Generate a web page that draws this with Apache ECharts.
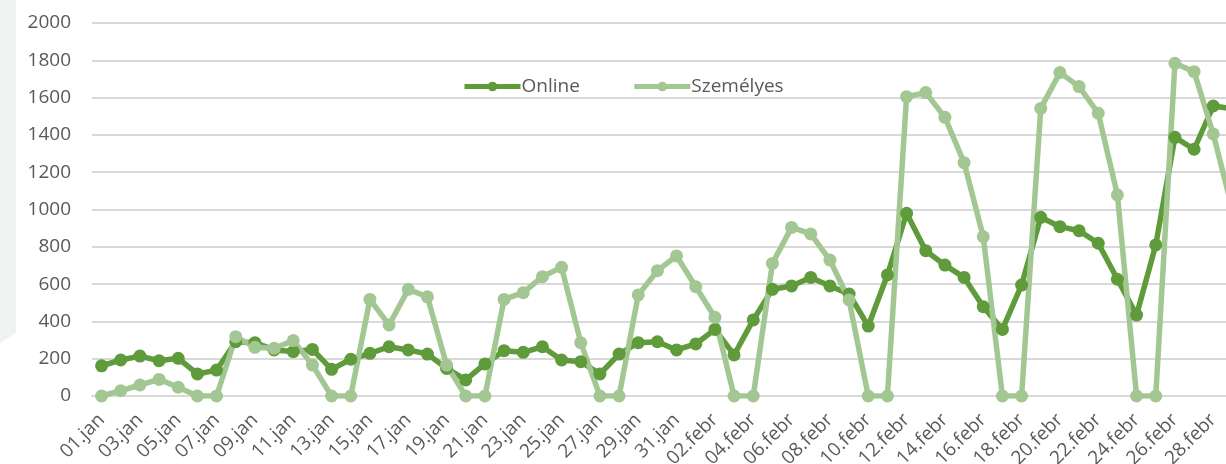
<!DOCTYPE html>
<html>
<head>
<meta charset="utf-8">
<script src="https://cdn.jsdelivr.net/npm/echarts@6/dist/echarts.min.js"></script>
<style>
html,body{margin:0;padding:0;overflow:hidden;background:#fff;}
#chart{width:1300px;height:464px;}
</style>
</head>
<body>
<div id="chart"></div>
<script>
const categories = [
 "01.jan","02.jan","03.jan","04.jan","05.jan","06.jan","07.jan","08.jan","09.jan","10.jan",
 "11.jan","12.jan","13.jan","14.jan","15.jan","16.jan","17.jan","18.jan","19.jan","20.jan",
 "21.jan","22.jan","23.jan","24.jan","25.jan","26.jan","27.jan","28.jan","29.jan","30.jan","31.jan",
 "01.febr","02.febr","03.febr","04.febr","05.febr","06.febr","07.febr","08.febr","09.febr","10.febr",
 "11.febr","12.febr","13.febr","14.febr","15.febr","16.febr","17.febr","18.febr","19.febr","20.febr",
 "21.febr","22.febr","23.febr","24.febr","25.febr","26.febr","27.febr","28.febr","01.márc"
];
const online = [
 162,193,214,189,202,118,139,291,286,247,238,250,143,197,229,264,247,225,148,86,172,243,234,264,193,184,118,225,286,291,247,
 279,357,220,408,572,590,636,590,547,375,649,980,779,702,636,479,357,595,958,908,886,819,626,434,810,1387,1323,1555,
 1540
];
const szemelyes = [
 0,28,59,89,47,0,0,318,261,256,297,166,0,0,518,381,572,532,166,0,0,518,554,640,690,286,0,0,542,672,751,
 586,422,0,0,711,904,869,729,515,0,0,1605,1627,1494,1251,854,0,0,1542,1734,1659,1516,1078,0,0,1784,1739,1405,
 1000
];
const seriesNames = ["Online","Személyes"];
const yTicks = {min:0, max:2000, interval:200};

const chart = echarts.init(document.getElementById('chart'), null, {renderer:'canvas'});
const font = "'Open Sans', sans-serif";
chart.setOption({
  animation:false,
  graphic:[{
    type:'polygon', z:-10,
    shape:{points:[[0,0],[16,0],[16,333],[0,343]]},
    style:{fill:'#eef2f1'}
  }],
  legend:{
    left:457, top:72,
    itemWidth:56, itemHeight:12, itemGap:52,
    lineStyle:{width:5},
    textStyle:{fontFamily:font, fontSize:19, color:'#595959', padding:[0,0,0,-4]},
    data:seriesNames
  },
  grid:{left:92, top:23, width:1150, height:373, containLabel:false, outerBoundsMode:'none'},
  xAxis:{
    type:'category', data:categories, boundaryGap:true,
    axisLine:{show:true, lineStyle:{color:'#d9d9d9', width:2}},
    axisTick:{show:false},
    axisLabel:{interval:1, rotate:45, margin:21, fontFamily:font, fontSize:19, color:'#595959', hideOverlap:false}
  },
  yAxis:{
    type:'value', min:yTicks.min, max:yTicks.max, interval:yTicks.interval,
    axisLine:{show:false}, axisTick:{show:false},
    axisLabel:{margin:21, fontFamily:font, fontSize:19, color:'#595959', formatter:v=>String(v)},
    splitLine:{lineStyle:{color:'#d9d9d9', width:2}}
  },
  series:[
    {name:seriesNames[0], type:'line', data:online, symbol:'circle', symbolSize:13, showAllSymbol:true,
     color:'#5f9b3a', lineStyle:{width:5.5, color:'#5f9b3a'}, itemStyle:{color:'#5f9b3a'}},
    {name:seriesNames[1], type:'line', data:szemelyes, symbol:'circle', symbolSize:13, showAllSymbol:true,
     color:'#a3c793', lineStyle:{width:5.5, color:'#a3c793'}, itemStyle:{color:'#a3c793'}}
  ]
});
</script>
</body>
</html>
